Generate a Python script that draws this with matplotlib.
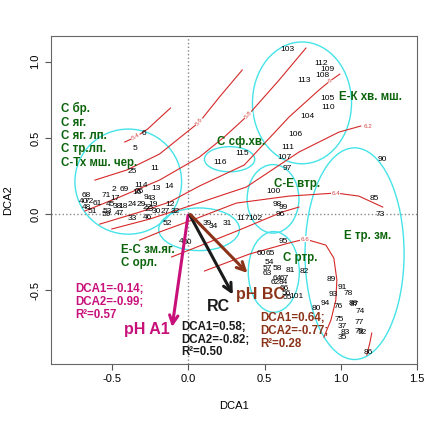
import matplotlib
matplotlib.use("Agg")
import matplotlib.pyplot as plt
from matplotlib.patches import Ellipse

plt.rcParams['font.family'] = ['Liberation Sans', 'DejaVu Sans']

# site scores (DCA1, DCA2) with site numbers
site_lab = ["6", "5", "25", "11", "2", "69", "114", "13", "14", "68", "40", "72", "61",
            "48", "51", "71", "17", "45", "38", "18", "59", "53", "47", "24", "16", "26",
            "9", "43", "29", "22", "23", "19", "12", "30", "27", "32", "33", "46", "52",
            "4", "50",
            "39", "34", "31", "117", "102", "116", "115", "103", "112", "109", "108", "113",
            "105", "110", "104", "106", "111", "107", "97", "100", "98", "99", "96", "90",
            "85", "73", "95", "60", "65", "54", "57", "58", "63", "81", "82", "64", "67",
            "62", "84", "66", "56", "55", "101", "89", "91", "78", "93", "94", "80", "76",
            "88", "87", "74", "75", "37", "77", "83", "35", "79", "92", "86"]
site_x = [-0.29, -0.35, -0.37, -0.22, -0.49, -0.42, -0.31, -0.21, -0.13, -0.67, -0.69, -0.65, -0.60,
          -0.67, -0.63, -0.54, -0.48, -0.51, -0.47, -0.43, -0.54, -0.53, -0.45, -0.37, -0.34, -0.32,
          -0.28, -0.24, -0.31, -0.27, -0.255, -0.235, -0.12, -0.21, -0.15, -0.085, -0.37, -0.27, -0.14,
          -0.05, -0.01,
          0.125, 0.16, 0.255, 0.36, 0.44, 0.21, 0.35, 0.65, 0.87, 0.91, 0.88, 0.76,
          0.91, 0.92, 0.78, 0.70, 0.65, 0.63, 0.65, 0.56, 0.58, 0.62, 0.60, 1.27,
          1.22, 1.255, 0.62, 0.48, 0.54, 0.53, 0.52, 0.58, 0.52, 0.67, 0.76, 0.58, 0.63,
          0.57, 0.62, 0.63, 0.64, 0.65, 0.71, 0.94, 1.01, 1.05, 0.95, 0.90, 0.84, 0.98,
          1.08, 1.09, 1.13, 0.99, 1.01, 1.12, 1.03, 1.01, 1.12, 1.14, 1.18]
site_y = [0.53, 0.43, 0.28, 0.30, 0.16, 0.16, 0.19, 0.17, 0.18, 0.12, 0.085, 0.08, 0.07,
          0.045, 0.02, 0.12, 0.10, 0.06, 0.05, 0.05, 0.0, 0.02, 0.005, 0.06, 0.14, 0.15,
          0.11, 0.105, 0.06, 0.045, 0.03, 0.06, 0.065, 0.015, 0.015, 0.015, -0.03, -0.025, -0.06,
          -0.18, -0.19,
          -0.06, -0.08, -0.06, -0.03, -0.03, 0.34, 0.40, 1.08, 0.99, 0.95, 0.91, 0.88,
          0.76, 0.70, 0.64, 0.52, 0.44, 0.37, 0.30, 0.145, 0.06, 0.045, 0.0, 0.36,
          0.10, -0.005, -0.18, -0.26, -0.26, -0.32, -0.355, -0.36, -0.39, -0.37, -0.38, -0.42, -0.42,
          -0.45, -0.45, -0.49, -0.52, -0.545, -0.54, -0.43, -0.48, -0.52, -0.53, -0.59, -0.62, -0.61,
          -0.59, -0.595, -0.64, -0.69, -0.74, -0.71, -0.78, -0.81, -0.77, -0.78, -0.91]

# community ellipses: centre x, centre y, width, height
ell_x = [-0.395, 0.07, 0.27, 0.745, 0.555, 1.09, 0.56]
ell_y = [0.213, -0.10, 0.36, 0.73, 0.10, -0.26, -0.38]
ell_w = [0.70, 0.53, 0.33, 0.65, 0.34, 0.65, 0.335]
ell_h = [0.69, 0.28, 0.165, 0.80, 0.45, 1.39, 0.53]

# community names (green)
grp_text = ["С бр.\nС яг.\nС яг. лп.\nС тр.лп.\nС-Тх мш. чер.", "С сф.хв.", "Е-К хв. мш.",
            "С-Е втр.", "Е тр. зм.", "С ртр.", "Е-С зм.яг.\nС орл."]
grp_x = [-0.837, 0.19, 0.99, 0.56, 1.02, 0.62, -0.44]
grp_y = [0.735, 0.47, 0.77, 0.20, -0.145, -0.29, -0.195]

# pH surface contours
cont_levels = ["5.4", "5.6", "5.8", "6", "6.2", "6.4", "", "6.6", ""]
cont_x = [
    [-0.418, -0.346, -0.268, -0.190, -0.118],
    [-0.614, -0.405, -0.190, 0.007, 0.072, 0.203, 0.353],
    [-0.680, -0.451, -0.190, 0.072, 0.235, 0.392, 0.595, 0.771],
    [-0.582, -0.320, -0.124, 0.072, 0.366, 0.660, 0.856, 0.928, 0.993],
    [-0.503, -0.255, 0.007, 0.379, 0.725, 0.987, 1.131],
    [-0.320, -0.190, 0.026, 0.314, 0.660, 0.967, 1.118, 1.275],
    [-0.111, 0.072, 0.333, 0.614, 0.725],
    [0.105, 0.399, 0.660, 0.765, 0.902, 0.954, 0.974, 0.967, 0.935, 0.889],
    [1.203, 1.190, 1.170],
]
cont_y = [
    [0.473, 0.506, 0.558, 0.630, 0.696],
    [0.223, 0.289, 0.394, 0.552, 0.604, 0.768, 0.946],
    [0.020, 0.112, 0.223, 0.374, 0.506, 0.650, 0.880, 1.090],
    [-0.066, 0.013, 0.079, 0.184, 0.322, 0.637, 0.814, 0.873, 0.919],
    [-0.098, -0.033, 0.053, 0.177, 0.407, 0.538, 0.578],
    [-0.171, -0.118, -0.039, 0.072, 0.118, 0.138, 0.118, 0.046],
    [-0.282, -0.210, -0.105, 0.013, 0.046],
    [-0.374, -0.263, -0.190, -0.164, -0.204, -0.289, -0.433, -0.565, -0.696, -0.808],
    [-0.781, -0.847, -0.926],
]
clab_x = [-0.346, 0.072, 0.392, 0.928, 1.176, 0.967, None, 0.765, None]
clab_y = [0.506, 0.604, 0.650, 0.873, 0.578, 0.138, None, -0.164, None]
clab_rot = [30, 52, 50, 38, 0, 0, 0, 0, 0]

# fitted vectors
vec_names = ["pH A1", "RC", "pH BC"]
vec_x = [-0.11, 0.30, 0.40]
vec_y = [-0.76, -0.545, -0.40]
vec_colors = ["#C8107A", "#1A1A1A", "#8B3318"]
vec_stats = ["DCA1=-0.14;\nDCA2=-0.99;\nR²=0.57",
             "DCA1=0.58;\nDCA2=-0.82;\nR²=0.50",
             "DCA1=0.64;\nDCA2=-0.77;\nR²=0.28"]
name_pos = [(-0.275, -0.76), (0.20, -0.61), (0.47, -0.525)]
stat_pos = [(-0.745, -0.455), (-0.045, -0.70), (0.47, -0.645)]

fig = plt.figure(figsize=(4.31, 4.22), dpi=100)
ax = fig.add_axes([0.1176, 0.138, 0.85, 0.777])
ax.set_xlim(-0.904, 1.49)
ax.set_ylim(-0.983, 1.17)

ax.axhline(0, color="#888888", ls=":", lw=1, zorder=1)
ax.axvline(0, color="#888888", ls=":", lw=1, zorder=1)

for cx, cy, w, h in zip(ell_x, ell_y, ell_w, ell_h):
    ax.add_patch(Ellipse((cx, cy), w, h, fill=False, ec="#45E3E8", lw=1.0, zorder=2))

for lev, xs, ys, lx, ly, rot in zip(cont_levels, cont_x, cont_y, clab_x, clab_y, clab_rot):
    ax.plot(xs, ys, color="#D62828", lw=0.8, zorder=2)
    if lev:
        ax.text(lx, ly, lev, color="#D64545", fontsize=4.5, rotation=rot,
                ha="center", va="center", zorder=3,
                bbox=dict(fc="white", ec="none", pad=0.2))

for lab, x, y in zip(site_lab, site_x, site_y):
    ax.text(x, y, lab, fontsize=6, ha="center", va="center", color="black", zorder=4)

for gt, gx, gy in zip(grp_text, grp_x, grp_y):
    ax.text(gx, gy, gt, fontsize=8.3, fontweight="bold", color="#0B640B",
            ha="left", va="center" if "\n" not in gt else "top", linespacing=1.15, zorder=5)

for name, vx, vy, col, st, npos, spos in zip(vec_names, vec_x, vec_y, vec_colors,
                                            vec_stats, name_pos, stat_pos):
    ax.annotate("", xy=(vx, vy), xytext=(0.0, 0.01),
                arrowprops=dict(arrowstyle="->,head_length=0.6,head_width=0.3",
                                color=col, lw=2.2), zorder=6)
    ax.text(npos[0], npos[1], name, color=col, fontsize=11.5, fontweight="bold",
            ha="center", va="center", zorder=6)
    ax.text(spos[0], spos[1], st, color=col, fontsize=8.3, fontweight="bold",
            ha="left", va="top", linespacing=1.1, zorder=6)

ax.set_xticks([-0.5, 0.0, 0.5, 1.0, 1.5])
ax.set_xticklabels(["-0.5", "0.0", "0.5", "1.0", "1.5"])
ax.set_yticks([-0.5, 0.0, 0.5, 1.0])
ax.set_yticklabels(["-0.5", "0.0", "0.5", "1.0"], rotation=90, va="center")
ax.tick_params(labelsize=8, length=4, color="#555555")
for s in ax.spines.values():
    s.set_color("#666666")
ax.set_xlabel("DCA1", fontsize=8, labelpad=12)
ax.set_ylabel("DCA2", fontsize=8, labelpad=12)

fig.savefig("out.png", dpi=100)
